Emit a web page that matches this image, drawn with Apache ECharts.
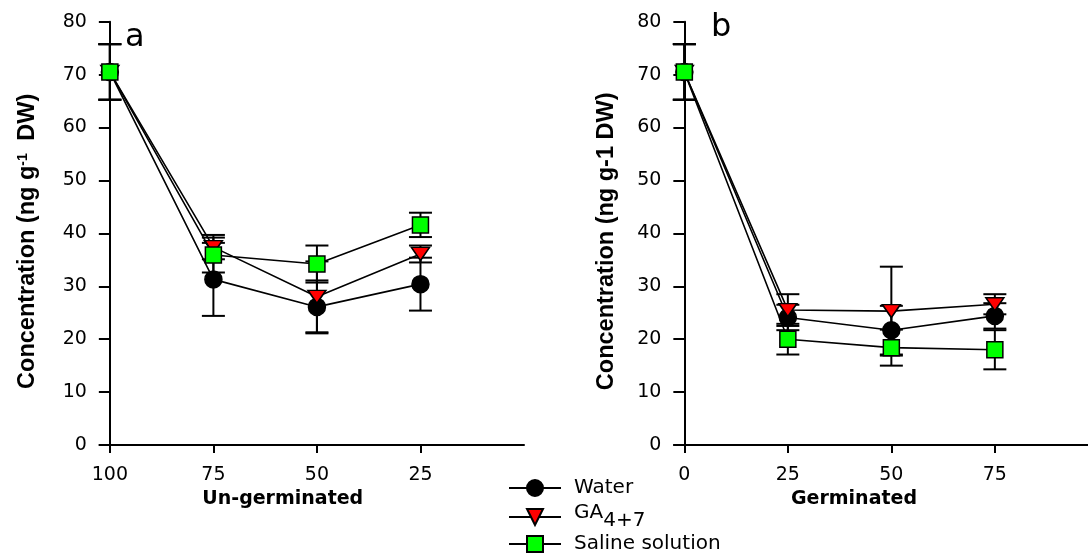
<!DOCTYPE html>
<html>
<head>
<meta charset="UTF-8">
<title>Concentration - un-germinated / germinated</title>
<script src="https://cdn.jsdelivr.net/npm/echarts@6/dist/echarts.min.js"></script>
<style>
  html, body { margin: 0; padding: 0; background: #fff; }
  #container { width: 1088px; height: 558px; }
</style>
</head>
<body>
<div id="container"></div>
<script type="text/javascript">
// ---- data ----
var ugX = [100, 75, 50, 25];          // panel a, Un-germinated
var gX = [0, 25, 50, 75];             // panel b, Germinated

var ugWater = [70.5, 31.3, 26.1, 30.4];
var ugWaterErr = [5.25, 6.9, 5.0, 5.0];
var ugGA = [70.5, 37.4, 28.0, 36.1];
var ugGAErr = [5.25, 2.3, 6.7, 1.6];
var ugSaline = [70.5, 35.9, 34.2, 41.6];
var ugSalineErr = [5.25, 3.3, 3.5, 2.3];

var gWater = [70.5, 24.1, 21.7, 24.4];
var gWaterErr = [5.25, 2.4, 4.6, 2.4];
var gGA = [70.5, 25.5, 25.3, 26.6];
var gGAErr = [5.25, 3.0, 8.4, 1.9];
var gSaline = [70.5, 20.0, 18.4, 18.0];
var gSalineErr = [5.25, 2.9, 3.4, 3.7];

var yTicks = [0, 10, 20, 30, 40, 50, 60, 70, 80];

var FONT = 'DejaVu Sans';

function pts(xs, ys) {
  return xs.map(function (x, i) { return [x, ys[i]]; });
}
function errs(xs, ys, es) {
  return xs.map(function (x, i) { return [x, ys[i] - es[i], ys[i] + es[i]]; });
}

function errorBar(params, api) {
  var x = api.value(0);
  var lo = api.coord([x, api.value(1)]);
  var hi = api.coord([x, api.value(2)]);
  var w = 11.5;
  var st = { stroke: '#000', lineWidth: 2 };
  return {
    type: 'group',
    children: [
      { type: 'line', shape: { x1: lo[0], y1: lo[1], x2: hi[0], y2: hi[1] }, style: st },
      { type: 'line', shape: { x1: lo[0] - w, y1: lo[1], x2: lo[0] + w, y2: lo[1] }, style: st },
      { type: 'line', shape: { x1: hi[0] - w, y1: hi[1], x2: hi[0] + w, y2: hi[1] }, style: st }
    ]
  };
}

var styles = {
  'Water': { symbol: 'circle', symbolSize: 17, symbolRotate: 0, color: '#000000' },
  'GA': { symbol: 'triangle', symbolSize: [18, 13], symbolRotate: 180, color: '#ff0000' },
  'Saline solution': { symbol: 'rect', symbolSize: 16, symbolRotate: 0, color: '#00ff00' }
};

function lineSeries(name, data, idx, z) {
  var s = styles[name];
  return {
    name: name,
    type: 'line',
    xAxisIndex: idx,
    yAxisIndex: idx,
    data: data,
    z: z,
    symbol: s.symbol,
    symbolSize: s.symbolSize,
    symbolRotate: s.symbolRotate,
    showAllSymbol: true,
    lineStyle: { color: '#000', width: 1.6 },
    itemStyle: { color: s.color, borderColor: '#000', borderWidth: 1.5 },
    emphasis: { disabled: true }
  };
}

function errSeries(data, idx) {
  return {
    type: 'custom',
    xAxisIndex: idx,
    yAxisIndex: idx,
    data: data,
    z: 1,
    renderItem: errorBar,
    encode: { x: 0, y: [1, 2] },
    silent: true
  };
}

function xAxisCfg(idx, min, max, inverse, ticks, name, namePad) {
  return {
    type: 'value',
    gridIndex: idx,
    min: min,
    max: max,
    inverse: inverse,
    name: name,
    nameLocation: 'middle',
    nameGap: 42,
    nameTextStyle: { fontFamily: FONT, fontSize: 19, fontWeight: 'bold', color: '#000', padding: namePad },
    axisLine: { onZero: false, lineStyle: { color: '#000', width: 2 } },
    axisTick: { length: 8, lineStyle: { width: 2 }, customValues: ticks },
    axisLabel: { fontFamily: FONT, fontSize: 19, color: '#000', margin: 21, customValues: ticks },
    splitLine: { show: false }
  };
}

function yAxisCfg(idx, offset, name, gap, rich) {
  return {
    type: 'value',
    gridIndex: idx,
    min: 0,
    max: 80,
    interval: 10,
    offset: offset,
    name: name,
    nameLocation: 'middle',
    nameRotate: 90,
    nameGap: gap,
    nameTextStyle: {
      fontFamily: 'Liberation Sans', fontSize: 23.5, fontWeight: 'bold', color: '#000',
      padding: [0, 16, 0, 0], rich: rich
    },
    axisLine: { show: true, onZero: false, lineStyle: { color: '#000', width: 2 } },
    axisTick: { show: true, length: 11, lineStyle: { width: 2 }, customValues: yTicks },
    axisLabel: { fontFamily: FONT, fontSize: 19, color: '#000', margin: 23, customValues: yTicks },
    splitLine: { show: false }
  };
}

function legendCfg(name, top) {
  return {
    data: [name],
    left: 508,
    top: top,
    padding: 0,
    orient: 'vertical',
    itemWidth: 52,
    itemHeight: 20,
    selectedMode: false,
    formatter: function (n) { return n === 'GA' ? '{a|GA}{b|4+7}' : n; },
    textStyle: {
      fontFamily: FONT, fontSize: 20, color: '#000', padding: [0, 0, 0, 8],
      rich: {
        a: { fontFamily: FONT, fontSize: 20, color: '#000', padding: [0, 0, 8, 0] },
        b: { fontFamily: FONT, fontSize: 20, color: '#000', padding: [8, 0, 0, 0] }
      }
    }
  };
}

var dom = document.getElementById('container');
var myChart = echarts.init(dom, null, { renderer: 'canvas' });

var option = {
  animation: false,
  backgroundColor: '#ffffff',
  grid: [
    { left: 99.5, top: 21.7, width: 424.5, height: 423.3 },
    { left: 674, top: 21.7, width: 414, height: 423.3 }
  ],
  legend: [
    legendCfg('Water', 478),
    legendCfg('GA', 503),
    legendCfg('Saline solution', 534)
  ],
  xAxis: [
    xAxisCfg(0, 0, 102.5, true, ugX, 'Un-germinated', [0, 58, 0, 0]),
    xAxisCfg(1, -2.5, 97.5, false, gX, 'Germinated', [0, 54, 0, 0])
  ],
  yAxis: [
    yAxisCfg(0, -10.35, 'Concentration (ng g{sup|-1} DW)', 70, {
      sup: { fontFamily: 'Liberation Sans', fontSize: 14, fontWeight: 'bold', color: '#000', verticalAlign: 'top', padding: [0, 6, 0, 0] }
    }),
    yAxisCfg(1, -10.35, 'Concentration (ng g-1 DW)', 66, null)
  ],
  graphic: [
    { type: 'text', x: 125, y: 38, style: { text: 'a', font: '32px "DejaVu Sans"', fill: '#000', verticalAlign: 'middle' } },
    { type: 'text', x: 711, y: 28, style: { text: 'b', font: '32px "DejaVu Sans"', fill: '#000', verticalAlign: 'middle' } }
  ],
  series: [
    errSeries(errs(ugX, ugWater, ugWaterErr), 0),
    errSeries(errs(ugX, ugGA, ugGAErr), 0),
    errSeries(errs(ugX, ugSaline, ugSalineErr), 0),
    errSeries(errs(gX, gWater, gWaterErr), 1),
    errSeries(errs(gX, gGA, gGAErr), 1),
    errSeries(errs(gX, gSaline, gSalineErr), 1),
    lineSeries('Water', pts(ugX, ugWater), 0, 2),
    lineSeries('GA', pts(ugX, ugGA), 0, 3),
    lineSeries('Saline solution', pts(ugX, ugSaline), 0, 4),
    lineSeries('Water', pts(gX, gWater), 1, 2),
    lineSeries('GA', pts(gX, gGA), 1, 3),
    lineSeries('Saline solution', pts(gX, gSaline), 1, 4)
  ]
};

myChart.setOption(option, true);
</script>
</body>
</html>
